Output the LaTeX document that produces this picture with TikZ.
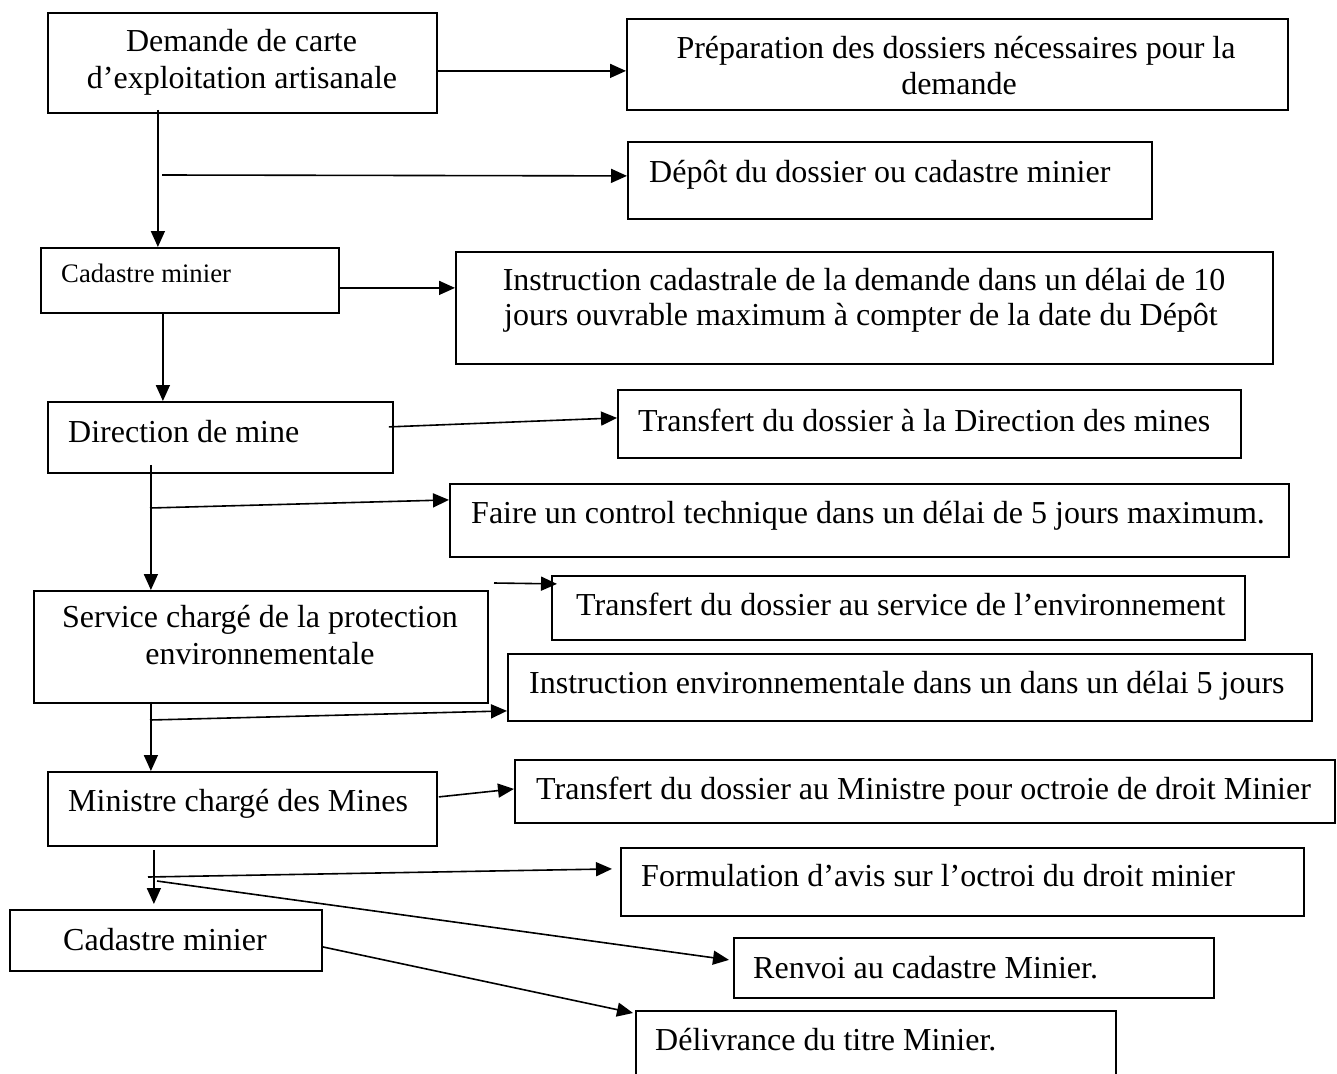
\documentclass[tikz,border=0pt]{standalone}
\usepackage{fontspec}
\setmainfont{Liberation Serif}
\usetikzlibrary{arrows.meta}
\tikzset{
  box/.style={draw=black, line width=1.8pt, inner sep=0pt, anchor=north west},
  txt/.style={inner sep=0pt, font=\fontsize{32}{36}\selectfont},
  txtsmall/.style={inner sep=0pt, font=\fontsize{26.7}{30}\selectfont},
  arr/.style={line width=1.6pt, -{Triangle[length=16pt,width=14pt]}}
}
\begin{document}
\begin{tikzpicture}[x=1pt,y=-1pt]
\useasboundingbox (0,0) rectangle (1337,1073);
% boxes
\node[box, minimum width=389pt, minimum height=100pt] (A) at (47,12) {};
\node[box, minimum width=661pt, minimum height=91pt]  (B) at (626,18) {};
\node[box, minimum width=524pt, minimum height=77pt]  (C) at (627,141) {};
\node[box, minimum width=298pt, minimum height=65pt]  (D) at (40,247) {};
\node[box, minimum width=817pt, minimum height=112pt] (E) at (455,251) {};
\node[box, minimum width=345pt, minimum height=71pt]  (F) at (47,401) {};
\node[box, minimum width=623pt, minimum height=68pt]  (G) at (617,389) {};
\node[box, minimum width=454pt, minimum height=112pt] (H) at (33,590) {};
\node[box, minimum width=839pt, minimum height=73pt]  (I) at (449,483) {};
\node[box, minimum width=693pt, minimum height=64pt]  (J) at (551,575) {};
\node[box, minimum width=804pt, minimum height=67pt]  (K) at (507,653) {};
\node[box, minimum width=389pt, minimum height=74pt]  (L) at (47,771) {};
\node[box, minimum width=820pt, minimum height=63pt]  (M) at (514,759) {};
\node[box, minimum width=683pt, minimum height=68pt]  (N) at (620,847) {};
\node[box, minimum width=480pt, minimum height=60pt]  (O) at (733,937) {};
\node[box, minimum width=312pt, minimum height=61pt]  (P) at (9,909) {};
\node[box, minimum width=480pt, minimum height=65pt]  (Q) at (635,1010) {};
% texts
\node[txt, anchor=base] (A1) at (241.5,52) {Demande de carte};
\node[txt, anchor=base] (A2) at (242,88) {d’exploitation artisanale};
\node[txt, anchor=base] (B1) at (956,59) {Préparation des dossiers nécessaires pour la};
\node[txt, anchor=base] (B2) at (959,94) {demande};
\node[txt, anchor=base west] (C1) at (649,182) {Dépôt du dossier ou cadastre minier};
\node[txtsmall, anchor=base west] (D1) at (61,282) {Cadastre minier};
\node[txt, anchor=base] (E1) at (864,290) {Instruction cadastrale de la demande dans un délai de 10};
\node[txt, anchor=base] (E2) at (861,325) {jours ouvrable maximum à compter de la date du Dépôt};
\node[txt, anchor=base west] (F1) at (68,442) {Direction de mine};
\node[txt, anchor=base west] (G1) at (638,431) {Transfert du dossier à la Direction des mines};
\node[txt, anchor=base] (H1) at (260,627) {Service chargé de la protection};
\node[txt, anchor=base] (H2) at (260,664) {environnementale};
\node[txt, anchor=base west] (I1) at (471,523) {Faire un control technique dans un délai de 5 jours maximum.};
\node[txt, anchor=base west] (J1) at (576,615) {Transfert du dossier au service de l’environnement};
\node[txt, anchor=base west] (K1) at (529,693) {Instruction environnementale dans un dans un délai 5 jours};
\node[txt, anchor=base west] (L1) at (68,811) {Ministre chargé des Mines};
\node[txt, anchor=base west] (M1) at (536,799) {Transfert du dossier au Ministre pour octroie de droit Minier};
\node[txt, anchor=base west] (N1) at (641,886) {Formulation d’avis sur l’octroi du droit minier};
\node[txt, anchor=base west] (O1) at (753,978) {Renvoi au cadastre Minier.};
\node[txt, anchor=base west] (P1) at (63,950) {Cadastre minier};
\node[txt, anchor=base west] (Q1) at (655,1050) {Délivrance du titre Minier.};
% free ends
\coordinate (dep) at (162,175);
\coordinate (ctl) at (150,508);
\coordinate (tre) at (494,583);
\coordinate (env) at (150,720);
\coordinate (form) at (148,877);
\coordinate (renv) at (157,881);
% connectors
\draw[arr] ([yshift=-8pt]A.east) -- ([yshift=-6.5pt]B.west);
\draw[arr] ([xshift=-84.5pt,yshift=4pt]A.south) -- ([xshift=-32pt]D.north);
\draw[arr] (dep) -- ([yshift=4.5pt]C.west);
\draw[arr] ([xshift=-1pt,yshift=-7.5pt]D.east) -- ([yshift=20pt]E.west);
\draw[arr] ([xshift=-27pt]D.south) -- ([xshift=-57.5pt]F.north);
\draw[arr] ([xshift=-5pt,yshift=10.5pt]F.east) -- ([yshift=6pt]G.west);
\draw[arr] ([xshift=-69.5pt,yshift=9pt]F.south) -- ([xshift=-110pt]H.north);
\draw[arr] (ctl) -- ([yshift=20.5pt]I.west);
\draw[arr] (tre) -- ([xshift=6pt,yshift=24pt]J.west);
\draw[arr] ([xshift=-110pt,yshift=2pt]H.south) -- ([xshift=-91.5pt]L.north);
\draw[arr] (env) -- ([yshift=-23.5pt]K.west);
\draw[arr] ([xshift=1pt,yshift=12pt]L.east) -- ([yshift=2.5pt]M.west);
\draw[arr] ([xshift=-88.5pt,yshift=-3pt]L.south) -- ([xshift=-12pt,yshift=5pt]P.north);
\draw[arr] (form) -- ([xshift=-8pt,yshift=13pt]N.west);
\draw[arr] (renv) -- ([xshift=-4pt,yshift=8pt]O.west);
\draw[arr] ([yshift=-6.5pt]P.east) -- ([xshift=-2pt,yshift=-3pt]Q.north west);
\end{tikzpicture}
\end{document}
